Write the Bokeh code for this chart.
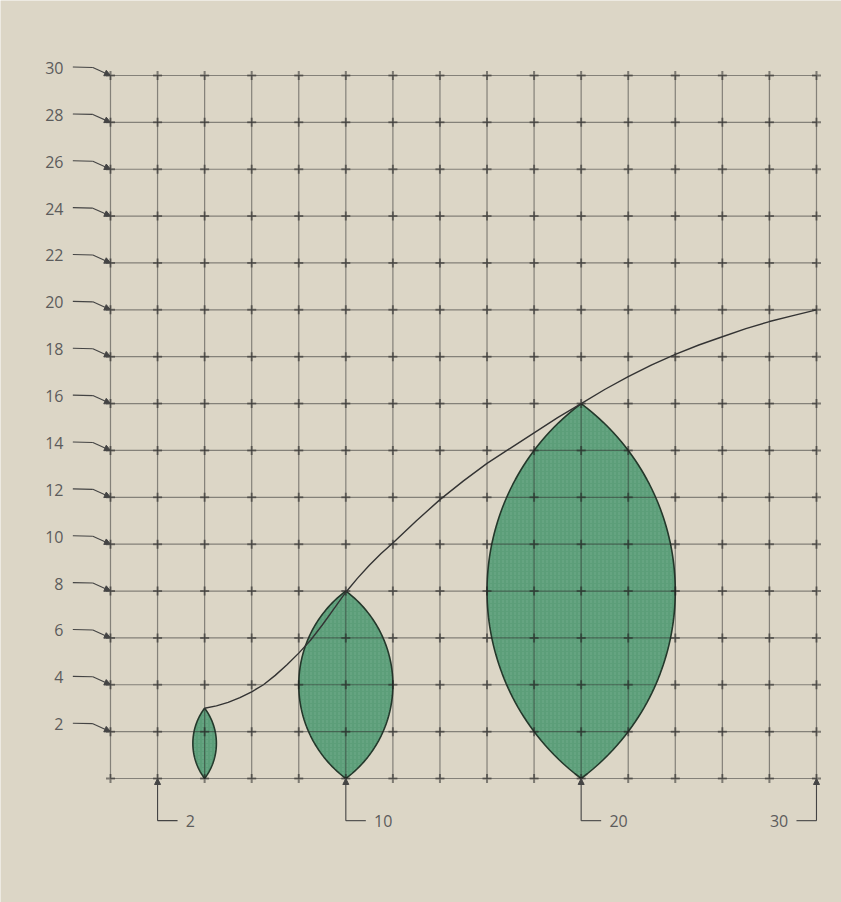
import numpy as np
from bokeh.plotting import figure
from bokeh.models import ColumnDataSource, Arrow, NormalHead, Range1d
from bokeh.embed import file_html
from bokeh.resources import INLINE
from bokeh.core.properties import value

# ---- data ----
grid_ticks = list(range(0, 31, 2))
y_label_ticks = list(range(2, 31, 2))
x_label_ticks = [2, 10, 20, 30]

lens_x = [4, 10, 20]          # centre x of each lens
lens_height = [3, 8, 16]      # lens spans 0 .. height
lens_width = [1, 4, 8]        # full width at mid height

curve_x = [4, 4.5, 5, 5.5, 6, 6.5, 7, 7.5, 8, 8.5, 9, 9.5, 10, 10.5, 11, 11.5, 12, 13, 14, 15, 16, 17, 18, 19, 20,
           21, 22, 23, 24, 25, 26, 27, 28, 29, 30]
curve_y = [3, 3.1, 3.25, 3.45, 3.7, 4.0, 4.4, 4.85, 5.35, 5.9, 6.55, 7.25, 7.95, 8.55, 9.1, 9.6, 10.05, 11.0, 11.9,
           12.7, 13.45, 14.1, 14.75, 15.4, 16.0, 16.6, 17.15, 17.65, 18.1, 18.5, 18.85, 19.2, 19.5, 19.75, 20.0]

BG = "#dcd6c6"
GREEN = "#5c9e79"
INK = "#2b2b2b"
LABEL = "#5c5c5c"

W, H = 841, 902
p = figure(width=W, height=H, output_backend="svg", toolbar_location=None,
           x_range=Range1d(-4.674, 31.063), y_range=Range1d(-5.292, 33.201),
           min_border=0, min_border_left=0, min_border_right=0,
           min_border_top=0, min_border_bottom=0)
p.axis.visible = False
p.grid.visible = False
p.outline_line_color = None
p.background_fill_color = BG
p.border_fill_color = BG

# ---- lenses (two circular arcs meeting at top and bottom) ----
xs, ys = [], []
for cx, h, w in zip(lens_x, lens_height, lens_width):
    a = w / 2.0
    b = h / 2.0
    R = (a * a + b * b) / (2 * a)
    d = R - a
    t = np.linspace(-b, b, 80)
    right = -d + np.sqrt(R * R - t * t)
    px = np.concatenate([cx + right, (cx - right)[::-1]])
    py = np.concatenate([b + t, (b + t)[::-1]])
    xs.append(list(px))
    ys.append(list(py))
p.patches(xs, ys, fill_color=GREEN, fill_alpha=1.0, line_color="#24382b", line_width=1.6,
          hatch_pattern=":", hatch_color="#8cc4a2", hatch_alpha=0.35, hatch_scale=4)

# ---- grid ----
gx0, gx1 = grid_ticks[0], grid_ticks[-1]
p.multi_line([[g, g] for g in grid_ticks], [[gx0, gx1] for g in grid_ticks],
             line_color=INK, line_alpha=0.5, line_width=1.2)
p.multi_line([[gx0, gx1] for g in grid_ticks], [[g, g] for g in grid_ticks],
             line_color=INK, line_alpha=0.5, line_width=1.2)
ix = [gx for gx in grid_ticks for gy in grid_ticks]
iy = [gy for gx in grid_ticks for gy in grid_ticks]
p.scatter(ix, iy, marker="cross", size=9, line_color="#1e1e1e", line_alpha=0.5, line_width=2)

# ---- curve ----
p.line(curve_x, curve_y, line_color="#333333", line_width=1.4)

# ---- y labels with bent arrows ----
p.multi_line([[-1.6, -0.75] for t in y_label_ticks], [[t + 0.36, t + 0.34] for t in y_label_ticks],
             line_color="#444444", line_width=1.1)
ysrc = ColumnDataSource(dict(x0=[-0.75] * len(y_label_ticks), y0=[t + 0.34 for t in y_label_ticks],
                             x1=[0.0] * len(y_label_ticks), y1=[float(t) for t in y_label_ticks]))
p.add_layout(Arrow(source=ysrc, x_start="x0", y_start="y0", x_end="x1", y_end="y1",
                   line_color="#444444", line_width=1.1,
                   end=NormalHead(size=6, fill_color="#444444", line_color="#444444")))
p.text([-2.0] * len(y_label_ticks), [t + 0.32 for t in y_label_ticks],
       text=[str(t) for t in y_label_ticks], text_align="right", text_baseline="middle",
       text_font=value("Open Sans"), text_font_size="16px", text_color=LABEL)

# ---- x labels with bracket leaders ----
sides = [1 if t < x_label_ticks[-1] else -1 for t in x_label_ticks]
p.multi_line([[t, t + 0.85 * s] for t, s in zip(x_label_ticks, sides)],
             [[-1.8, -1.8] for t in x_label_ticks], line_color="#444444", line_width=1.1)
xsrc = ColumnDataSource(dict(x0=[float(t) for t in x_label_ticks], y0=[-1.8] * len(x_label_ticks),
                             x1=[float(t) for t in x_label_ticks], y1=[0.0] * len(x_label_ticks)))
p.add_layout(Arrow(source=xsrc, x_start="x0", y_start="y0", x_end="x1", y_end="y1",
                   line_color="#444444", line_width=1.1,
                   end=NormalHead(size=6, fill_color="#444444", line_color="#444444")))
for t, s in zip(x_label_ticks, sides):
    p.text([t + 1.2 * s], [-1.8], text=[str(t)], text_align="left" if s > 0 else "right",
           text_baseline="middle", text_font=value("Open Sans"), text_font_size="16px",
           text_color=LABEL)

open("out.html", "w").write(file_html(p, INLINE))
